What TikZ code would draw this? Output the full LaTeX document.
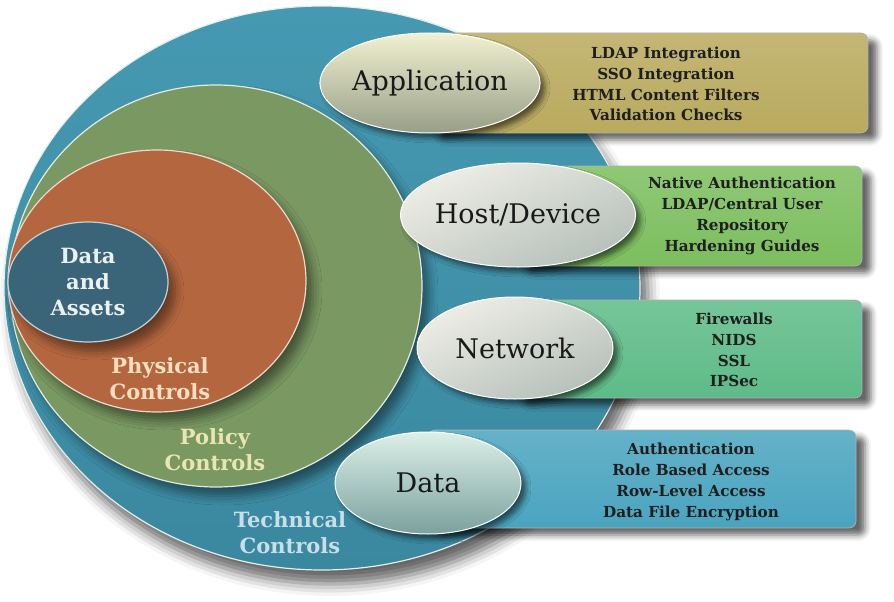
\documentclass[tikz,border=0pt]{standalone}
\usepackage{fontspec}
\setmainfont{DejaVu Serif}
\usetikzlibrary{shapes.geometric,shadows.blur}

\definecolor{techteal}{HTML}{4699B2}
\definecolor{techtealdk}{HTML}{3A88A0}
\definecolor{policygreen}{HTML}{7A9862}
\definecolor{physorange}{HTML}{B4673F}
\definecolor{assetblue}{HTML}{3A6579}
\definecolor{appbox}{HTML}{B9AA5E}
\definecolor{hostbox}{HTML}{7CBE5E}
\definecolor{netbox}{HTML}{5EBB88}
\definecolor{databox}{HTML}{4AA4BF}
\definecolor{pilllight}{HTML}{EEEEE6}
\definecolor{pilldark}{HTML}{B6C0BA}
\definecolor{rimwhite}{HTML}{E6EEE8}

\tikzset{
  ring/.style={ellipse, inner sep=0pt, draw=rimwhite, line width=1.2pt},
  softshadow/.style={blur shadow={shadow xshift=7pt, shadow yshift=-9pt,
      shadow blur radius=9pt, shadow opacity=45}},
  layertext/.style={align=center, font=\bfseries\fontsize{21}{26}\selectfont},
  infobox/.style={rounded corners=7pt, draw=white!70!black, line width=0.6pt,
      blur shadow={shadow xshift=9pt, shadow yshift=-7pt,
      shadow blur radius=6pt, shadow opacity=60}},
  infotext/.style={align=center, text=black!88,
      font=\bfseries\fontsize{15.2}{20.8}\selectfont},
  pill/.style={ellipse, inner sep=0pt, minimum width=192pt, minimum height=102pt,
      draw=white, line width=1pt, top color=pilllight, bottom color=pilldark,
      shading angle=25,
      blur shadow={shadow xshift=5pt, shadow yshift=-5pt,
      shadow blur radius=5pt, shadow opacity=55},
      font=\fontsize{27}{30}\selectfont, text=black!90},
}

\begin{document}
\begin{tikzpicture}[x=1pt, y=-1pt]
  \useasboundingbox (0,0) rectangle (894,602);

  % nested control layers
  \node[ring, minimum width=636pt, minimum height=564pt,
        blur shadow={shadow xshift=8pt, shadow yshift=-14pt,
        shadow blur radius=12pt, shadow opacity=60},
        top color=techteal, bottom color=techtealdk] (tech) at (322,288) {};
  \node[ring, softshadow, minimum width=412pt, minimum height=402pt,
        fill=policygreen, draw=white!80!policygreen] (policy) at (216,286) {};
  \node[ring, softshadow, minimum width=298pt, minimum height=262pt,
        fill=physorange, draw=white!75!physorange] (phys) at (157,281) {};
  \node[ring, softshadow, minimum width=160pt, minimum height=120pt,
        fill=assetblue, draw=white!70!assetblue] (assets) at (88,282) {};

  % layer captions
  \node[layertext, text=white!90!assetblue] (assetsT) at (88,282) {Data\\and\\Assets};
  \node[layertext, text=orange!25!white] (physT) at (160,379) {Physical\\Controls};
  \node[layertext, text=yellow!25!white!90!black] (policyT) at (215,450) {Policy\\Controls};
  \node[layertext, text=cyan!15!white!90!black] (techT) at (290,533) {Technical\\Controls};

  % detail boxes
  \draw[infobox, top color=appbox!85!white, bottom color=appbox] (430,33) rectangle (868,133);
  \draw[infobox, top color=hostbox!85!white, bottom color=hostbox] (518,166) rectangle (862,266);
  \draw[infobox, top color=netbox!85!white, bottom color=netbox] (515,300) rectangle (862,398);
  \draw[infobox, top color=databox!85!white, bottom color=databox] (428,430) rectangle (856,528);

  \node[infotext] (appT) at (666,84) {LDAP Integration\\SSO Integration\\HTML Content Filters\\Validation Checks};
  \node[infotext] (hostT) at (742,216) {Native Authentication\\LDAP/Central User\\Repository\\Hardening Guides};
  \node[infotext] (netT) at (734,350) {Firewalls\\NIDS\\SSL\\IPSec};
  \node[infotext] (dataT) at (691,482) {Authentication\\Role Based Access\\Row-Level Access\\Data File Encryption};

  % category ovals
  \node[pill, minimum width=190pt, minimum height=100pt,
        top color=pilllight!90!yellow!95!white, bottom color=pilldark!90!yellow!80!black] (app) at (430,83) {Application};
  \node[pill, minimum width=196pt, minimum height=104pt] (host) at (518,215) {Host/Device};
  \node[pill, minimum width=196pt, minimum height=102pt] (net) at (515,348) {Network};
  \node[pill, minimum width=186pt, minimum height=102pt,
        top color=pilllight!92!cyan, bottom color=pilldark!85!cyan!80!black] (data) at (428,483) {Data};
\end{tikzpicture}
\end{document}
